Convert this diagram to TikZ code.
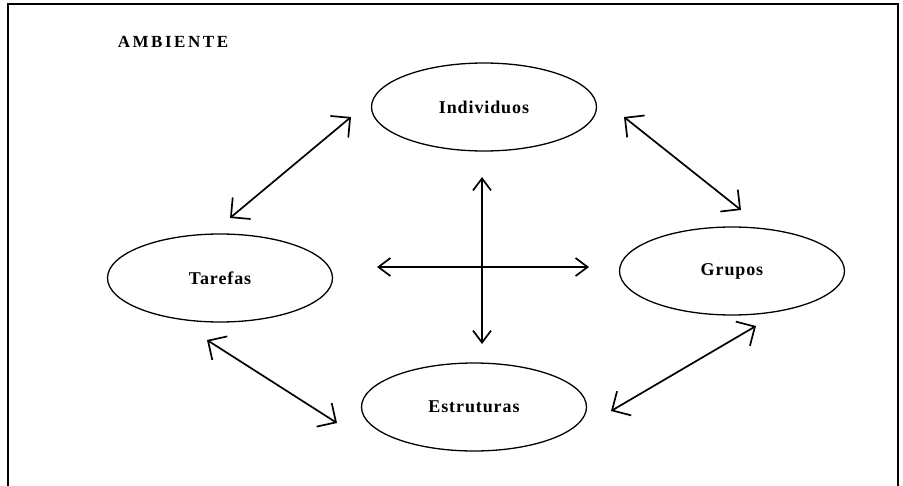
\documentclass[tikz,border=0pt]{standalone}
\usepackage{fontspec}
\setmainfont{Liberation Serif}
\usetikzlibrary{shapes.geometric,arrows.meta}
\begin{document}
\begin{tikzpicture}[x=1pt,y=-1pt,
  lbl/.style={font=\fontsize{18}{20}\selectfont\bfseries\addfontfeatures{LetterSpace=5}},
  title/.style={font=\fontsize{17}{19}\selectfont\bfseries\addfontfeatures{LetterSpace=15}},
  elip/.style={ellipse, draw, line width=1.3pt, minimum width=225pt,
    minimum height=88pt, inner sep=0pt, lbl},
  link/.style={line width=1.7pt,
    {Straight Barb[length=14pt,width=28pt]}-{Straight Barb[length=14pt,width=28pt]}},
  axis/.style={line width=1.7pt,
    {Straight Barb[length=12pt,width=18pt]}-{Straight Barb[length=12pt,width=18pt]}}]
  \useasboundingbox (0,0) rectangle (903,485);
  % open frame round the scene
  \draw[line width=1.6pt] (8,486) -- (8,4) -- (898,4) -- (898,486);
  \node[title] (amb) at (173,42) {AMBIENTE};
  % the four elements
  \node[elip] (ind) at (484,107) {Individuos};
  \node[elip] (tar) at (220,278) {Tarefas};
  \node[elip] (gru) at (732,271) {Grupos};
  \node[elip] (est) at (474,407) {Estruturas};
  % arrow end points
  \coordinate (a1) at (351,117); \coordinate (a2) at (230,218);
  \coordinate (b1) at (624,117); \coordinate (b2) at (741,210);
  \coordinate (c1) at (207,340); \coordinate (c2) at (337,423);
  \coordinate (d1) at (756,326); \coordinate (d2) at (611,411);
  \coordinate (v1) at (482,177); \coordinate (v2) at (482,344);
  \coordinate (h1) at (377,267); \coordinate (h2) at (589,267);
  % mutual relations
  \draw[link] (a1) -- (a2);
  \draw[link] (b1) -- (b2);
  \draw[link] (c1) -- (c2);
  \draw[link] (d1) -- (d2);
  \draw[axis] (v1) -- (v2);
  \draw[axis] (h1) -- (h2);
\end{tikzpicture}
\end{document}
